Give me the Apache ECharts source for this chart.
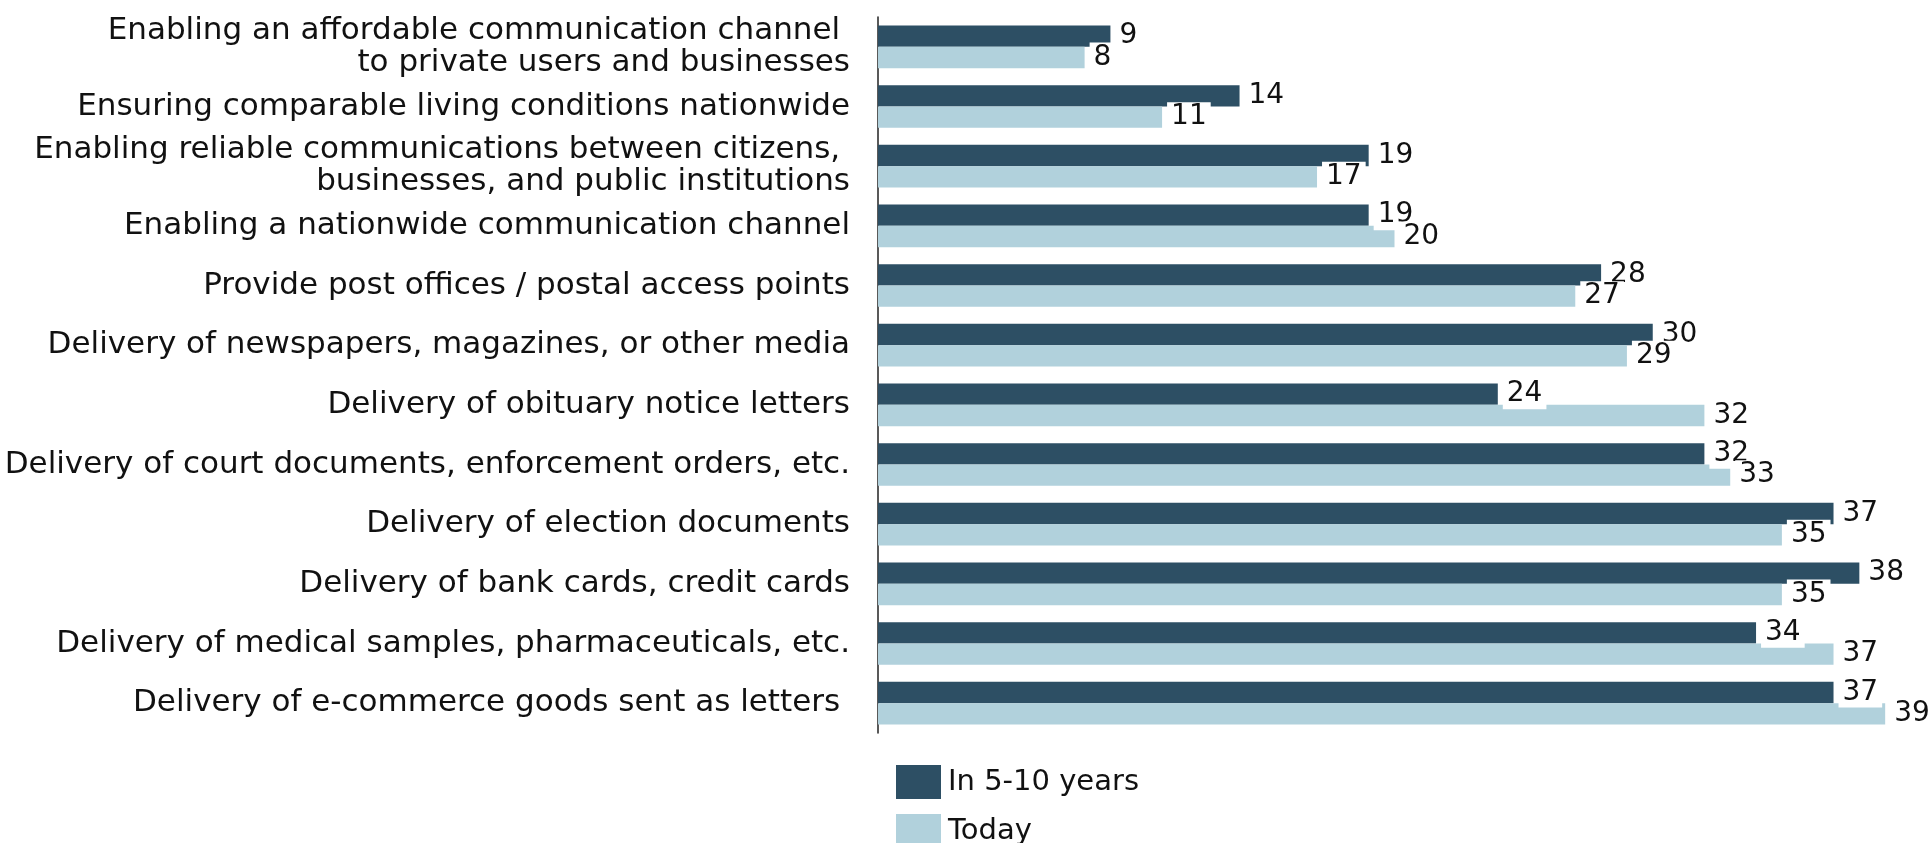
<!DOCTYPE html>
<html>
<head>
<meta charset="utf-8">
<script src="https://cdn.jsdelivr.net/npm/echarts@6/dist/echarts.min.js"></script>
<style>
html,body{margin:0;padding:0;background:#fff;}
#chart{width:1932px;height:843px;}
</style>
</head>
<body>
<div id="chart"></div>
<script>
const categories = [
  "Enabling an affordable communication channel \nto private users and businesses",
  "Ensuring comparable living conditions nationwide",
  "Enabling reliable communications between citizens, \nbusinesses, and public institutions",
  "Enabling a nationwide communication channel",
  "Provide post offices / postal access points",
  "Delivery of newspapers, magazines, or other media",
  "Delivery of obituary notice letters",
  "Delivery of court documents, enforcement orders, etc.",
  "Delivery of election documents",
  "Delivery of bank cards, credit cards",
  "Delivery of medical samples, pharmaceuticals, etc.",
  "Delivery of e-commerce goods sent as letters "
];
const seriesNames = ["In 5-10 years", "Today"];
const in5to10 = [9, 14, 19, 19, 28, 30, 24, 32, 37, 38, 34, 37];
const today = [8, 11, 17, 20, 27, 29, 32, 33, 35, 35, 37, 39];

const FONT = "DejaVu Sans";
const chart = echarts.init(document.getElementById('chart'), null, {renderer: 'canvas'});
const labelCfg = {
  show: true,
  position: 'right',
  distance: 5,
  color: '#111',
  fontFamily: FONT,
  fontSize: 28,
  backgroundColor: '#fff',
  padding: [1, 4, 1, 4]
};
const legendBase = {
  orient: 'vertical',
  left: 891,
  itemWidth: 45,
  itemHeight: 34,
  icon: 'rect',
  textStyle: {fontFamily: FONT, fontSize: 29, color: '#111', padding: [0, 0, 0, 2]}
};
chart.setOption({
  animation: false,
  textStyle: {fontFamily: FONT},
  grid: {left: 878, right: 21, top: 17, bottom: 110, containLabel: false},
  legend: [
    Object.assign({}, legendBase, {top: 760, data: [seriesNames[0]]}),
    Object.assign({}, legendBase, {top: 809, data: [seriesNames[1]]})
  ],
  xAxis: {
    type: 'value',
    min: 0,
    max: 40,
    show: false,
    splitLine: {show: false}
  },
  yAxis: {
    type: 'category',
    data: categories,
    inverse: true,
    axisLine: {show: true, lineStyle: {color: '#222', width: 1.5}},
    axisTick: {show: false},
    axisLabel: {
      fontFamily: FONT,
      fontSize: 31,
      color: '#111',
      margin: 28,
      lineHeight: 32,
      align: 'right'
    }
  },
  series: [
    {
      name: seriesNames[0],
      type: 'bar',
      data: in5to10,
      barGap: '0%',
      barCategoryGap: '28.6%',
      itemStyle: {color: '#2d4f64'},
      label: labelCfg
    },
    {
      name: seriesNames[1],
      type: 'bar',
      data: today,
      itemStyle: {color: '#b1d1dc'},
      label: labelCfg
    }
  ]
});
</script>
</body>
</html>
